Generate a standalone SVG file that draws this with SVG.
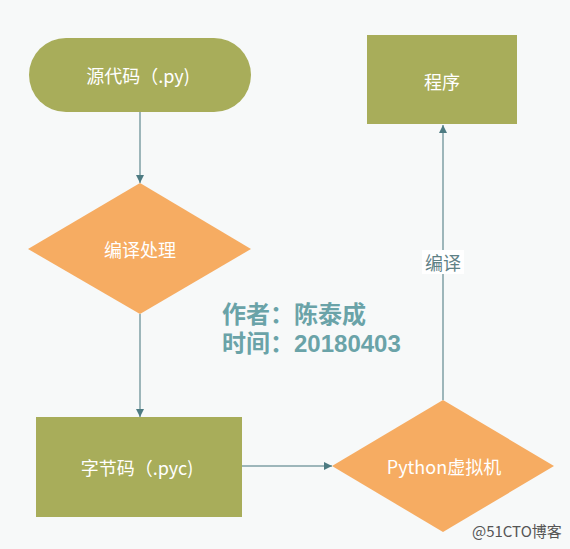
<svg xmlns="http://www.w3.org/2000/svg" width="570" height="549" viewBox="0 0 570 549">
<style>
.olive{fill:#a8ad5a}
.orange{fill:#f6ac62}
.lbl{font-family:"Noto Sans CJK SC","Noto Sans",sans-serif;font-size:18px;fill:#ffffff;text-anchor:middle;dominant-baseline:central}
.conn{stroke:#7f9fa5;stroke-width:1.5;fill:none}
.info{font-family:"Liberation Sans","Noto Sans CJK SC",sans-serif;font-size:24px;font-weight:bold;fill:#6aa3a8}
</style>
<defs>
<marker id="ah" viewBox="0 0 10 10" refX="10" refY="5" markerWidth="8" markerHeight="8" markerUnits="userSpaceOnUse" orient="auto">
<path d="M0,0 L10,5 L0,10 z" fill="#4d7b82"/>
</marker>
</defs>
<rect width="570" height="549" fill="#f7f9f9"/>
<g id="connectors">
<line class="conn" x1="140" y1="112" x2="140" y2="183" marker-end="url(#ah)"/>
<line class="conn" x1="140" y1="314" x2="140" y2="417" marker-end="url(#ah)"/>
<line class="conn" x1="242" y1="466" x2="332" y2="466" marker-end="url(#ah)"/>
<line class="conn" x1="443" y1="400" x2="443" y2="125" marker-end="url(#ah)"/>
<rect x="422" y="250" width="42" height="24" fill="#ffffff"/>
<text x="443" y="262" font-family="Noto Sans CJK SC,sans-serif" font-size="18" fill="#5f8186" text-anchor="middle" dominant-baseline="central">编译</text>
</g>
<g id="source">
<rect class="olive" x="29" y="38" width="222" height="74" rx="37"/>
<text class="lbl" x="138" y="75">源代码（.py)</text>
</g>
<g id="compile">
<polygon class="orange" points="140,183 251,249 140,314 28,249"/>
<text class="lbl" x="140" y="249">编译处理</text>
</g>
<g id="bytecode">
<rect class="olive" x="36" y="417" width="206" height="100"/>
<text class="lbl" x="137" y="467">字节码（.pyc)</text>
</g>
<g id="vm">
<polygon class="orange" points="443,400 554,466 443,532 332,466"/>
<text class="lbl" x="444" y="466">Python虚拟机</text>
</g>
<g id="program">
<rect class="olive" x="367" y="35" width="150" height="89"/>
<text class="lbl" x="442" y="81">程序</text>
</g>
<text class="info" x="222" y="323">作者：陈泰成</text>
<text class="info" x="222" y="352">时间：20180403</text>
<text x="472" y="537" font-family="Noto Sans CJK SC,sans-serif" font-size="15" fill="#555555">@51CTO博客</text>
</svg>
